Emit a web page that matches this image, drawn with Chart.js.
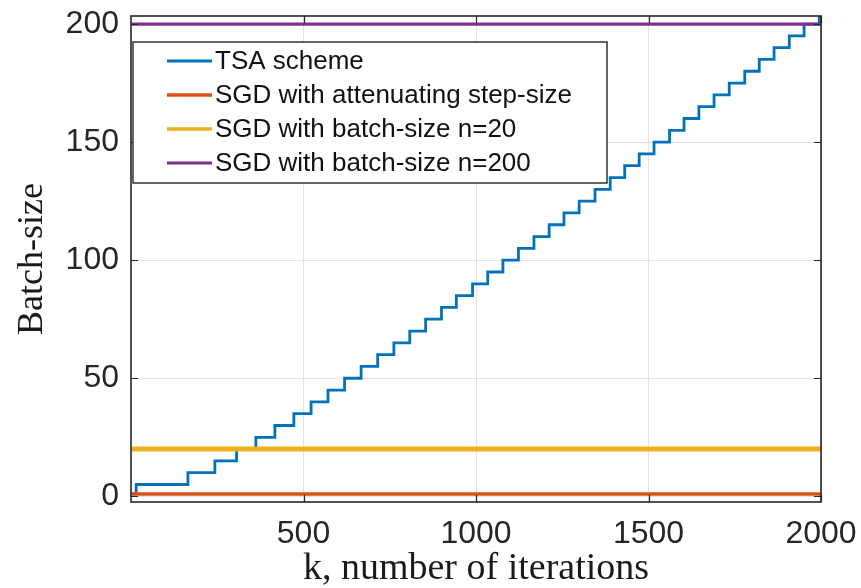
<!DOCTYPE html>
<html>
<head>
<meta charset="utf-8">
<script src="https://cdn.jsdelivr.net/npm/chart.js@4.4.1/dist/chart.umd.min.js"></script>
<style>
  html, body { margin: 0; padding: 0; background: #ffffff; }
  #wrap { width: 861px; height: 588px; }
</style>
</head>
<body>
<div id="wrap"><canvas id="c" width="861" height="588"></canvas></div>
<script>
// ---- data ----
const seriesLabels = [
  'TSA scheme',
  'SGD with attenuating step-size',
  'SGD with batch-size n=20',
  'SGD with batch-size n=200'
];
// iterations at which the TSA batch-size changes, and the new batch-size
const tsaIters = [1, 15, 165, 243, 306, 362, 417, 472, 522, 571, 619, 667, 715, 762, 808, 854, 900, 943, 990, 1034, 1078, 1123, 1168, 1212, 1255, 1299, 1345, 1389, 1431, 1473, 1516, 1561, 1603, 1646, 1690, 1734, 1779, 1821, 1864, 1908, 1951, 1995, 2000];
const tsaBatch = [1, 5, 10, 15, 20, 25, 30, 35, 40, 45, 50, 55, 60, 65, 70, 75, 80, 85, 90, 95, 100, 105, 110, 115, 120, 125, 130, 135, 140, 145, 150, 155, 160, 165, 170, 175, 180, 185, 190, 195, 200, 205, 205];
// constant batch-size baselines
const constIters = [1, 2000];
const attenuatingBatch = [1, 1];
const batch20 = [20, 20];
const batch200 = [200, 200];
// axis ticks
const xTickValues = [500, 1000, 1500, 2000];
const yTickValues = [0, 50, 100, 150, 200];

const toPts = (xs, ys) => xs.map((v, i) => ({ x: v, y: ys[i] }));

const INK = '#262626';

const matlabFrame = {
  id: 'matlabFrame',
  afterDatasetsDraw(chart, args, opts) {
    const { ctx, chartArea: a, scales: { x, y } } = chart;
    ctx.save();
    // inner tick marks on all four sides
    ctx.strokeStyle = INK;
    ctx.lineWidth = 1.2;
    ctx.beginPath();
    x.ticks.forEach(t => {
      const px = Math.round(x.getPixelForValue(t.value)) + 0.5;
      ctx.moveTo(px, a.bottom); ctx.lineTo(px, a.bottom - opts.tick);
      ctx.moveTo(px, a.top); ctx.lineTo(px, a.top + opts.tick);
    });
    y.ticks.forEach(t => {
      const py = Math.round(y.getPixelForValue(t.value)) + 0.5;
      ctx.moveTo(a.left, py); ctx.lineTo(a.left + opts.tick, py);
      ctx.moveTo(a.right, py); ctx.lineTo(a.right - opts.tick, py);
    });
    ctx.stroke();
    // box
    ctx.lineWidth = 1.6;
    ctx.strokeRect(a.left, a.top, a.right - a.left, a.bottom - a.top);

    // legend box
    const L = opts.legend;
    const bx = a.left + L.dx, by = a.top + L.dy;
    ctx.fillStyle = '#ffffff';
    ctx.fillRect(bx, by, L.w, L.h);
    ctx.lineWidth = 1.4;
    ctx.strokeStyle = INK;
    ctx.strokeRect(bx, by, L.w, L.h);
    ctx.font = L.font;
    ctx.textBaseline = 'middle';
    ctx.textAlign = 'left';
    chart.data.datasets.forEach((ds, i) => {
      const cy = by + L.firstRow + i * L.rowGap;
      ctx.strokeStyle = ds.borderColor;
      ctx.lineWidth = Math.min(ds.borderWidth, 3.5);
      ctx.beginPath();
      ctx.moveTo(bx + L.lineX0, cy);
      ctx.lineTo(bx + L.lineX1, cy);
      ctx.stroke();
      ctx.fillStyle = '#111111';
      ctx.fillText(ds.label, bx + L.textX, cy + 1);
    });
    ctx.restore();
  }
};

const zeroPad = s => { s.paddingTop = 0; s.paddingBottom = 0; s.paddingLeft = 0; s.paddingRight = 0; };

new Chart(document.getElementById('c'), {
  type: 'line',
  data: {
    datasets: [
      { label: seriesLabels[0], data: toPts(tsaIters, tsaBatch), borderColor: '#0072BD', backgroundColor: '#0072BD', borderWidth: 2.8, stepped: 'before', pointRadius: 0, order: 4 },
      { label: seriesLabels[1], data: toPts(constIters, attenuatingBatch), borderColor: '#D95319', backgroundColor: '#D95319', borderWidth: 3.4, pointRadius: 0, order: 3 },
      { label: seriesLabels[2], data: toPts(constIters, batch20), borderColor: '#EDB120', backgroundColor: '#EDB120', borderWidth: 5, pointRadius: 0, order: 2 },
      { label: seriesLabels[3], data: toPts(constIters, batch200), borderColor: '#7E2F8E', backgroundColor: '#7E2F8E', borderWidth: 3.2, pointRadius: 0, order: 1 }
    ]
  },
  options: {
    responsive: false,
    animation: false,
    events: [],
    layout: { padding: { top: 16, right: 40, bottom: 0, left: 0 } },
    plugins: {
      legend: { display: false },
      tooltip: { enabled: false },
      matlabFrame: {
        tick: 7,
        legend: { dx: 2, dy: 26, w: 474, h: 141, firstRow: 19, rowGap: 34, lineX0: 34, lineX1: 79, textX: 82, font: '26px "Liberation Sans", Arial, sans-serif' }
      }
    },
    scales: {
      x: {
        type: 'linear',
        min: 0,
        max: 2000,
        afterBuildTicks: s => { s.ticks = xTickValues.map(v => ({ value: v })); },
        afterFit: s => { s.height = 86; zeroPad(s); },
        grid: { color: '#e3e3e3', lineWidth: 1, drawTicks: false },
        border: { display: false },
        ticks: { color: INK, padding: 16, maxRotation: 0, callback: v => String(v), font: { family: '"Liberation Sans", Arial, sans-serif', size: 32, lineHeight: 1 } },
        title: { display: true, text: 'k, number of iterations', color: '#1a1a1a', padding: { top: 0, bottom: 0 }, font: { family: '"Liberation Serif", "Times New Roman", serif', size: 38, lineHeight: 1 } }
      },
      y: {
        type: 'linear',
        min: -2.4,
        max: 203.4,
        afterBuildTicks: s => { s.ticks = yTickValues.map(v => ({ value: v })); },
        afterFit: s => { s.width = 131; zeroPad(s); },
        grid: { color: '#e3e3e3', lineWidth: 1, drawTicks: false },
        border: { display: false },
        ticks: { color: INK, padding: 12, callback: v => String(v), font: { family: '"Liberation Sans", Arial, sans-serif', size: 32, lineHeight: 1 } },
        title: { display: true, text: 'Batch-size', color: '#1a1a1a', padding: { top: 15, bottom: 0 }, font: { family: '"Liberation Serif", "Times New Roman", serif', size: 36, lineHeight: 1 } }
      }
    }
  },
  plugins: [matlabFrame]
});
</script>
</body>
</html>
